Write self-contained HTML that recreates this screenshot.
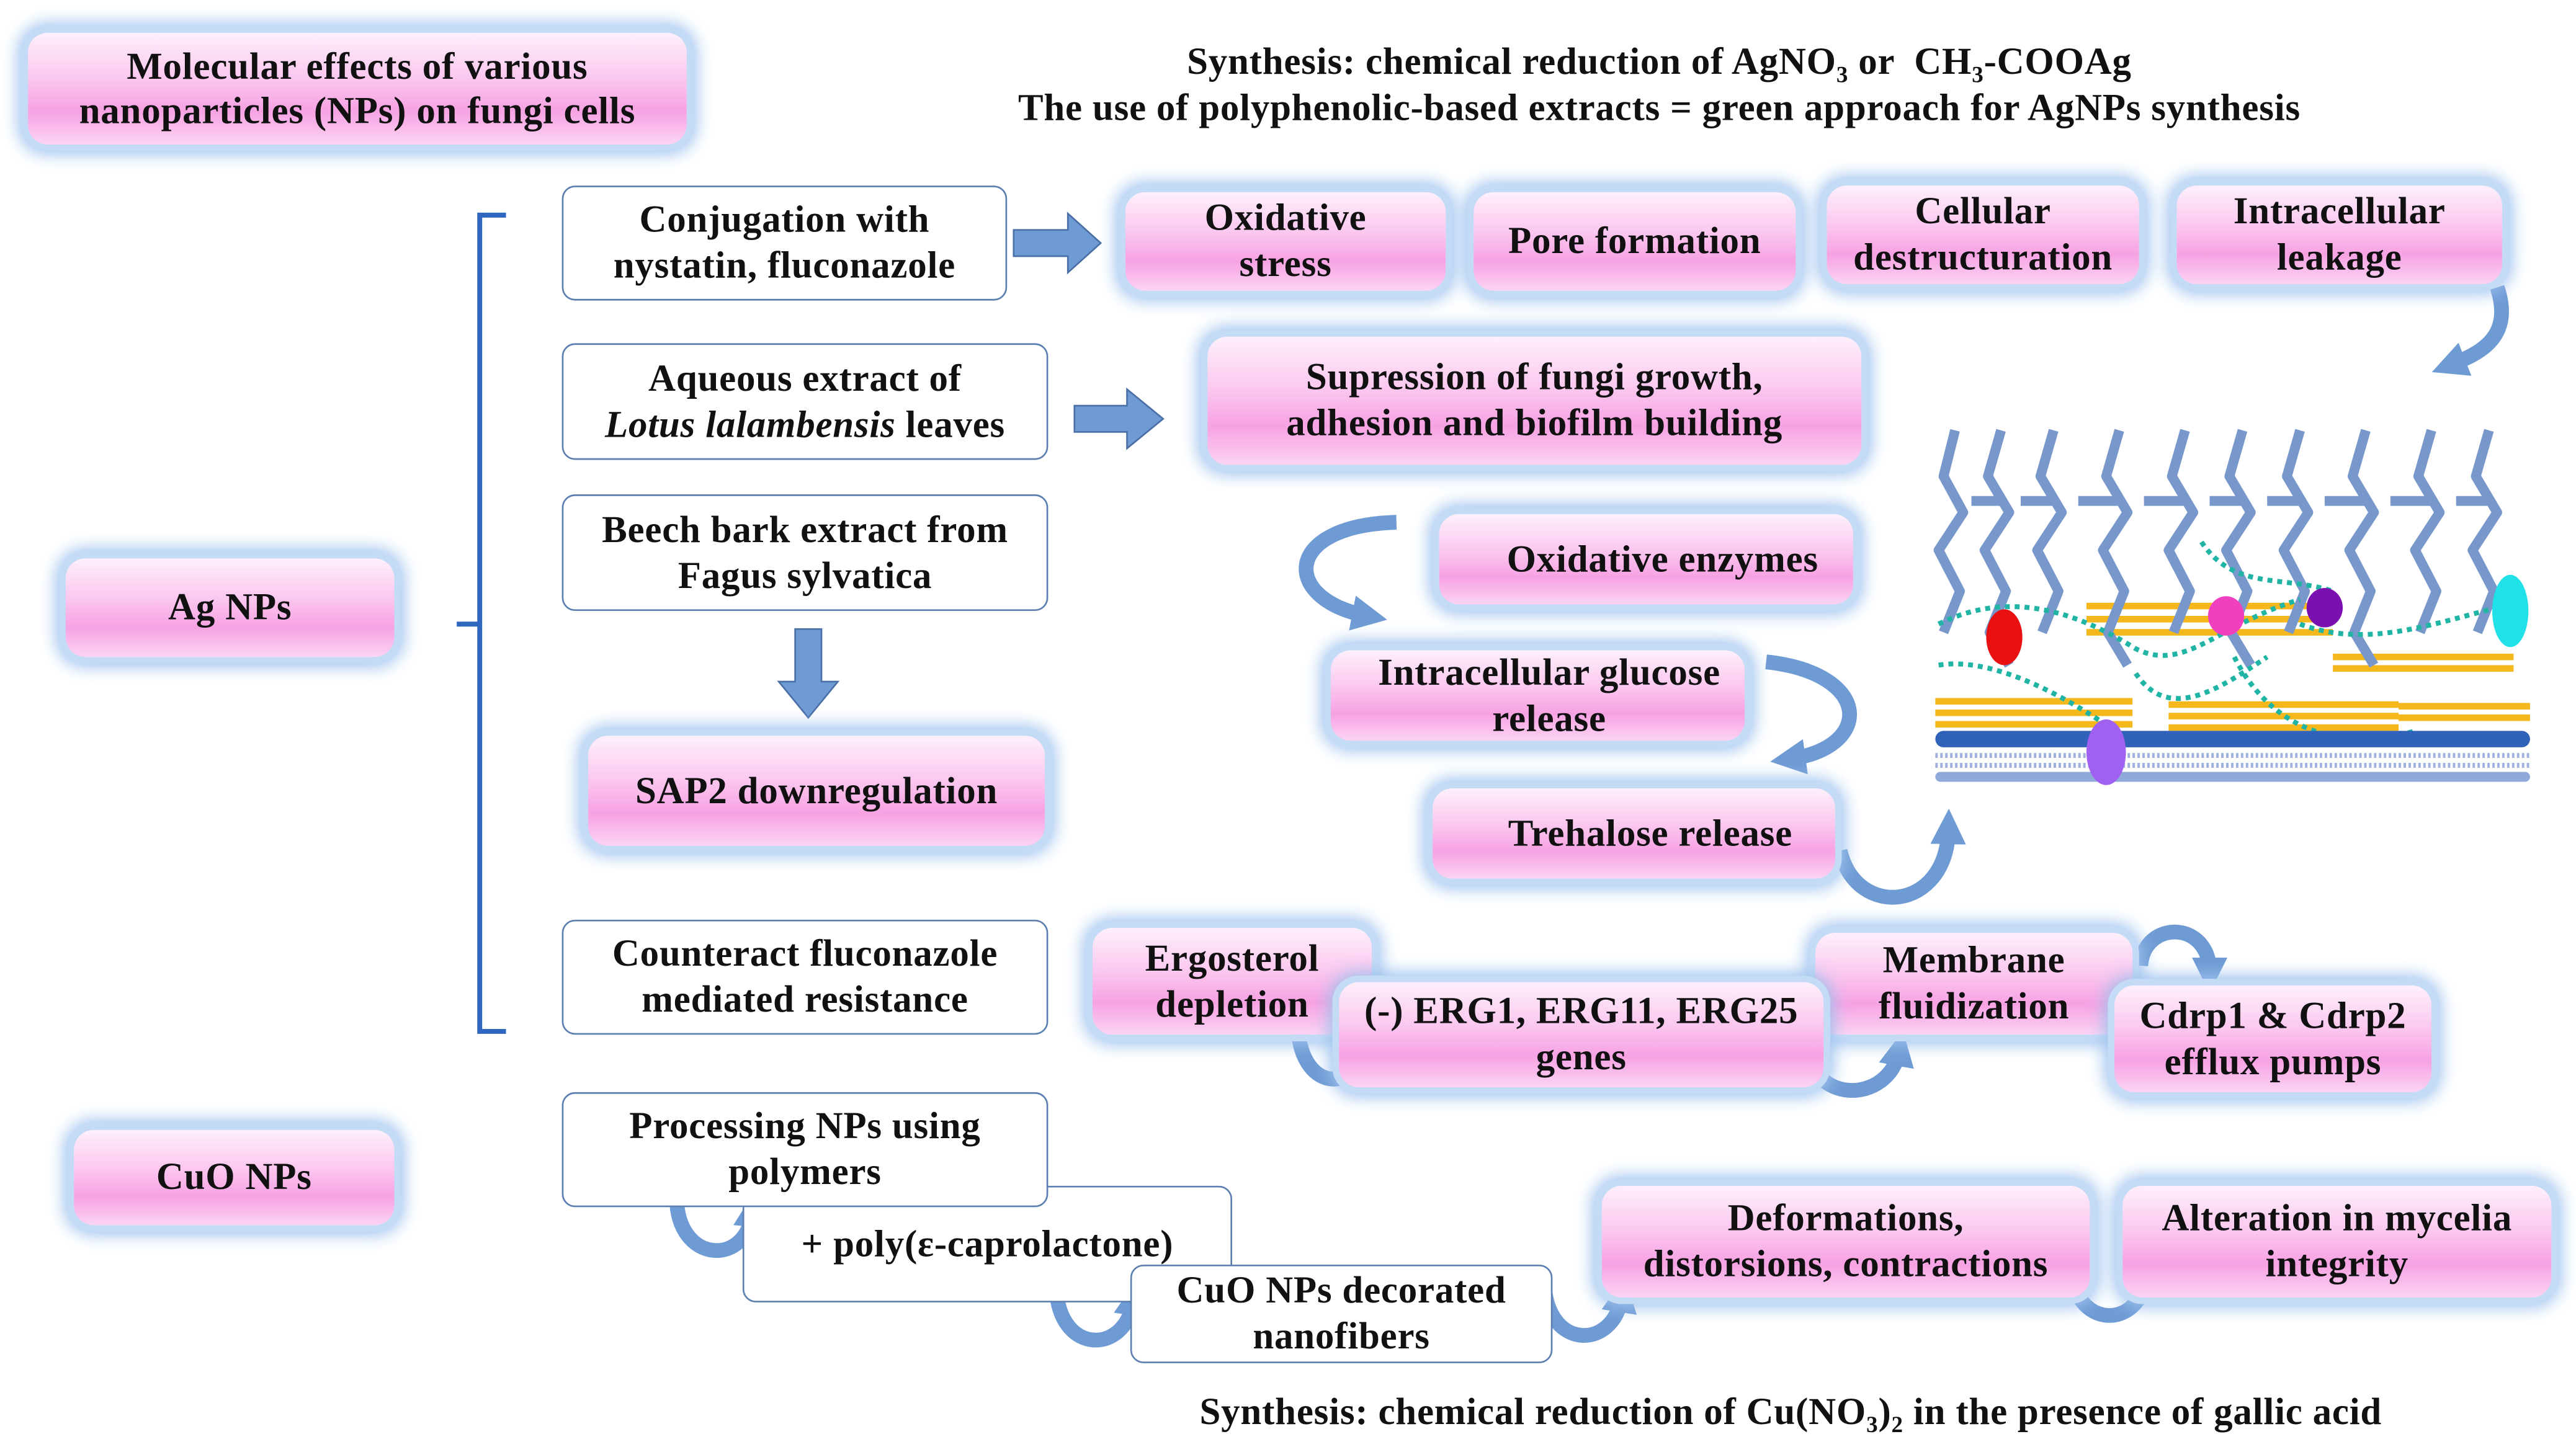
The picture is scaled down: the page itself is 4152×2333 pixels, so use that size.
<!DOCTYPE html>
<html><head><meta charset="utf-8"><style>
html,body{margin:0;padding:0;background:#fff;}
body{width:4152px;height:2333px;overflow:hidden;}
#c{position:relative;width:1568px;height:881px;transform:scale(2.648);transform-origin:0 0;font-family:"Liberation Serif",serif;color:#111;}
.p,.w{position:absolute;box-sizing:border-box;display:flex;align-items:center;justify-content:center;text-align:center;font-size:23px;line-height:28px;font-weight:bold;letter-spacing:0.3px;}
.p{border-radius:12px;background:linear-gradient(#fdf0fb 0%,#fbc8ef 40%,#f7a2e3 70%,#fbd4f3 100%);box-shadow:0 0 0 4px #c4dbf6,0 0 10px 6px #9ec2ee;}
.w{border:1.3px solid #5b7fb0;border-radius:8px;background:#fff;}
.t{position:absolute;font-size:23px;line-height:28px;font-weight:bold;letter-spacing:0.3px;text-align:center;white-space:nowrap;}
.s{font-size:14px;position:relative;top:5px;line-height:0;}
svg{position:absolute;left:0;top:0;}
</style></head><body><div id="c">
<svg width="1568" height="881" viewBox="0 0 1568 881">
<defs>
<marker id="ah" markerWidth="2.4" markerHeight="2.4" refX="1" refY="1.2" orient="auto"><path d="M0,0 L2.4,1.2 L0,2.4z" fill="#6f9bd4"/></marker>
</defs>
<path d="M308,131 L292,131 L292,628 L308,628 M292,380 L278,380" fill="none" stroke="#2f66c0" stroke-width="3"/>
<g fill="#6f9bd4" stroke="#4a6fa5" stroke-width="1">
<path d="M617,140 L650,140 L650,130 L670,148 L650,166 L650,156 L617,156z"/>
<path d="M654,247 L686,247 L686,237 L708,255 L686,273 L686,263 L654,263z"/>
<path d="M484,383 L500,383 L500,415 L510,415 L492,437 L474,415 L484,415z"/>
<path d="M884,325 L892,325 L892,350 L897,350 L888,362 L879,350 L884,350z"/>
<path d="M819,405 L827,405 L827,430 L832,430 L823,442 L814,430 L819,430z"/>
<path d="M882,490 L890,490 L890,515 L895,515 L886,527 L877,515 L882,515z"/>
</g>
<g fill="none" stroke="#6f9bd4" stroke-width="9">
<path d="M850,318 C780,320 780,365 832,375" marker-end="url(#ah)"/>
<path d="M1075,403 C1140,410 1140,455 1090,462" marker-end="url(#ah)"/>
<path d="M1120,518 C1130,560 1185,555 1186,505" marker-end="url(#ah)"/>
<path d="M1520,175 C1530,205 1510,215 1492,222" marker-end="url(#ah)"/>
<path d="M790,625 C792,668 830,665 832,632" marker-end="url(#ah)"/>
<path d="M1098,630 C1100,675 1150,672 1156,640" marker-end="url(#ah)"/>
<path d="M1303,588 C1305,560 1345,560 1345,592" marker-end="url(#ah)"/>
<path d="M412,733 C415,770 455,770 458,738" marker-end="url(#ah)"/>
<path d="M643,785 C645,825 685,825 690,792" marker-end="url(#ah)"/>
<path d="M940,782 C942,822 982,822 987,790" marker-end="url(#ah)"/>
<path d="M1260,770 C1262,810 1302,810 1307,777" marker-end="url(#ah)"/>
</g>
<g>
<g fill="#f5b81c">
<rect x="1270" y="367" width="150" height="4"/><rect x="1270" y="375" width="150" height="4"/><rect x="1270" y="383" width="150" height="4"/>
<rect x="1178" y="425" width="120" height="4"/><rect x="1178" y="432" width="120" height="4"/><rect x="1178" y="439" width="120" height="4"/>
<rect x="1320" y="427" width="140" height="4"/><rect x="1320" y="434" width="140" height="4"/><rect x="1320" y="441" width="140" height="4"/>
<rect x="1460" y="428" width="80" height="4"/><rect x="1460" y="435" width="80" height="4"/>
<rect x="1420" y="398" width="110" height="4"/><rect x="1420" y="405" width="110" height="4"/>
</g>
<g fill="none" stroke="#7898cc" stroke-width="6" stroke-linejoin="round">
<path d="M1190,262 L1183,290 L1195,312 L1180,335 L1193,360 L1183,385"/>
<path d="M1218,262 L1210,290 L1223,312 L1208,335 L1221,360 L1211,385 L1223,405"/>
<path d="M1250,262 L1242,290 L1255,312 L1240,335 L1253,360 L1243,385"/>
<path d="M1290,262 L1282,290 L1295,312 L1280,335 L1293,360 L1283,385 L1295,405"/>
<path d="M1330,262 L1322,290 L1335,312 L1320,335 L1333,360 L1323,385"/>
<path d="M1365,262 L1357,290 L1370,312 L1355,335 L1368,360 L1358,385 L1370,405"/>
<path d="M1400,262 L1392,290 L1405,312 L1390,335 L1403,360 L1393,385"/>
<path d="M1440,262 L1432,290 L1445,312 L1430,335 L1443,360 L1433,385 L1445,405"/>
<path d="M1480,262 L1472,290 L1485,312 L1470,335 L1483,360 L1473,385"/>
<path d="M1515,262 L1507,290 L1520,312 L1505,335 L1518,360 L1508,385"/>
<path d="M1200,305 L1218,305 M1230,305 L1250,305 M1265,305 L1290,305 M1305,305 L1330,305 M1345,305 L1365,305 M1380,305 L1400,305 M1415,305 L1440,305 M1455,305 L1480,305 M1495,305 L1515,305"/>
</g>
<g fill="none" stroke="#1fb4a4" stroke-width="3" stroke-dasharray="3,3">
<path d="M1180,380 C1220,360 1260,370 1300,395 C1330,410 1350,380 1400,365"/>
<path d="M1180,405 C1210,400 1250,420 1280,440"/>
<path d="M1360,400 C1380,440 1420,460 1470,445"/>
<path d="M1400,380 C1440,395 1480,380 1520,370"/>
<path d="M1340,330 C1360,360 1390,350 1420,360"/>
<path d="M1300,410 C1320,440 1350,420 1380,400"/>
</g>
<ellipse cx="1220" cy="388" rx="11" ry="17" fill="#e81010"/>
<ellipse cx="1355" cy="375" rx="11" ry="12" fill="#f040c0"/>
<ellipse cx="1415" cy="370" rx="11" ry="12" fill="#7a10b0"/>
<ellipse cx="1528" cy="372" rx="11" ry="22" fill="#20e0e8"/>
<rect x="1178" y="445" width="362" height="10" rx="5" fill="#2f62b8"/>
<path d="M1178,460 L1540,460 M1178,466 L1540,466" stroke="#9fb2dc" stroke-width="3" stroke-dasharray="1.5,1.5"/>
<rect x="1178" y="470" width="362" height="6" rx="3" fill="#8fa9d8"/>
<ellipse cx="1282" cy="458" rx="12" ry="20" fill="#a060f0"/>
</g>
</svg>

<div class="p" style="left:17px;top:20px;width:401px;height:68px;line-height:27px;">Molecular effects of various<br>nanoparticles (NPs) on fungi cells</div>
<div class="t" style="left:610px;top:24px;width:800px;">Synthesis: chemical reduction of AgNO<span class="s">3</span> or &nbsp;CH<span class="s">3</span>-COOAg<br>The use of polyphenolic-based extracts = green approach for AgNPs synthesis</div>
<div class="p" style="left:40px;top:340px;width:200px;height:60px;">Ag NPs</div>
<div class="p" style="left:45px;top:688px;width:195px;height:58px;">CuO NPs</div>

<div class="w" style="left:342px;top:113px;width:271px;height:70px;">Conjugation with<br>nystatin, fluconazole</div>
<div class="w" style="left:342px;top:209px;width:296px;height:71px;"><span>Aqueous extract of<br><i>Lotus lalambensis</i> leaves</span></div>
<div class="w" style="left:342px;top:301px;width:296px;height:71px;">Beech bark extract from<br>Fagus sylvatica</div>
<div class="w" style="left:342px;top:560px;width:296px;height:70px;">Counteract fluconazole<br>mediated resistance</div>
<div class="w" style="left:452px;top:722px;width:298px;height:71px;padding-top:0px;">+ poly(ε-caprolactone)</div>
<div class="w" style="left:342px;top:665px;width:296px;height:70px;">Processing NPs using<br>polymers</div>
<div class="w" style="left:688px;top:770px;width:257px;height:60px;">CuO NPs decorated<br>nanofibers</div>

<div class="p" style="left:685px;top:117px;width:195px;height:60px;">Oxidative<br>stress</div>
<div class="p" style="left:897px;top:117px;width:196px;height:60px;">Pore formation</div>
<div class="p" style="left:1112px;top:113px;width:190px;height:60px;">Cellular<br>destructuration</div>
<div class="p" style="left:1325px;top:113px;width:198px;height:60px;">Intracellular<br>leakage</div>
<div class="p" style="left:735px;top:205px;width:398px;height:78px;">Supression of fungi growth,<br>adhesion and biofilm building</div>
<div class="p" style="left:876px;top:313px;width:252px;height:55px;padding-left:20px;">Oxidative enzymes</div>
<div class="p" style="left:810px;top:396px;width:252px;height:55px;padding-left:14px;">Intracellular glucose<br>release</div>
<div class="p" style="left:872px;top:480px;width:245px;height:55px;padding-left:20px;">Trehalose release</div>
<div class="p" style="left:358px;top:448px;width:278px;height:67px;">SAP2 downregulation</div>
<div class="p" style="left:665px;top:565px;width:170px;height:65px;">Ergosterol<br>depletion</div>
<div class="p" style="left:1105px;top:568px;width:193px;height:62px;">Membrane<br>fluidization</div>
<div class="p" style="left:815px;top:598px;width:295px;height:64px;">(-) ERG1, ERG11, ERG25<br>genes</div>
<div class="p" style="left:1287px;top:600px;width:193px;height:65px;">Cdrp1 &amp; Cdrp2<br>efflux pumps</div>
<div class="p" style="left:975px;top:722px;width:297px;height:68px;">Deformations,<br>distorsions, contractions</div>
<div class="p" style="left:1292px;top:722px;width:261px;height:68px;">Alteration in mycelia<br>integrity</div>

<div class="t" style="left:690px;top:846px;width:800px;">Synthesis: chemical reduction of Cu(NO<span class="s">3</span>)<span class="s">2</span> in the presence of gallic acid</div>
</div></body></html>
